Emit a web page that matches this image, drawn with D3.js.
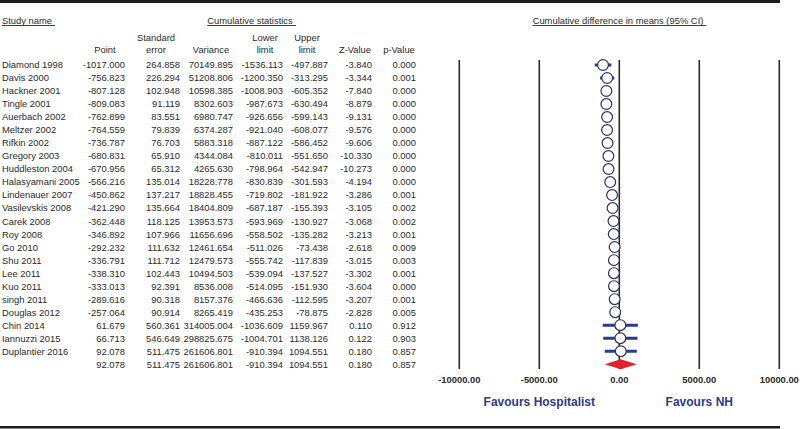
<!DOCTYPE html>
<html>
<head>
<meta charset="utf-8">
<script src="https://cdn.jsdelivr.net/npm/d3@7"></script>
<style>
  body { margin: 0; background: #fff; }
  svg { display: block; font-family: "Liberation Sans", Arial, sans-serif; }
</style>
</head>
<body>
<svg width="800" height="429"></svg>
<script>
// study rows
const studies = ["Diamond 1998", "Davis 2000", "Hackner 2001", "Tingle 2001", "Auerbach 2002", "Meltzer 2002",
  "Rifkin 2002", "Gregory 2003", "Huddleston 2004", "Halasyamani 2005", "Lindenauer 2007", "Vasilevskis 2008",
  "Carek 2008", "Roy 2008", "Go 2010", "Shu 2011", "Lee 2011", "Kuo 2011", "singh 2011", "Douglas 2012",
  "Chin 2014", "Iannuzzi 2015", "Duplantier 2016"]
const point = [-1017.000, -756.823, -807.128, -809.083, -762.899, -764.559, -736.787, -680.831, -670.956, -566.216,
  -450.862, -421.290, -362.448, -346.892, -292.232, -336.791, -338.310, -333.013, -289.616, -257.064, 61.679, 66.713, 92.078]
const stdErr = [264.858, 226.294, 102.948, 91.119, 83.551, 79.839, 76.703, 65.910, 65.312, 135.014,
  137.217, 135.664, 118.125, 107.966, 111.632, 111.712, 102.443, 92.391, 90.318, 90.914, 560.361, 546.649, 511.475]
const variance = [70149.895, 51208.806, 10598.385, 8302.603, 6980.747, 6374.287, 5883.318, 4344.084, 4265.630, 18228.778,
  18828.455, 18404.809, 13953.573, 11656.696, 12461.654, 12479.573, 10494.503, 8536.008, 8157.376, 8265.419, 314005.004, 298825.675, 261606.801]
const lower = [-1536.113, -1200.350, -1008.903, -987.673, -926.656, -921.040, -887.122, -810.011, -798.964, -830.839,
  -719.802, -687.187, -593.969, -558.502, -511.026, -555.742, -539.094, -514.095, -466.636, -435.253, -1036.609, -1004.701, -910.394]
const upper = [-497.887, -313.295, -605.352, -630.494, -599.143, -608.077, -586.452, -551.650, -542.947, -301.593,
  -181.922, -155.393, -130.927, -135.282, -73.438, -117.839, -137.527, -151.930, -112.595, -78.875, 1159.967, 1138.126, 1094.551]
const zValue = [-3.840, -3.344, -7.840, -8.879, -9.131, -9.576, -9.606, -10.330, -10.273, -4.194,
  -3.286, -3.105, -3.068, -3.213, -2.618, -3.015, -3.302, -3.604, -3.207, -2.828, 0.110, 0.122, 0.180]
const pValue = [0.000, 0.001, 0.000, 0.000, 0.000, 0.000, 0.000, 0.000, 0.000, 0.000,
  0.001, 0.002, 0.002, 0.001, 0.009, 0.003, 0.001, 0.000, 0.001, 0.005, 0.912, 0.903, 0.857]
// overall (cumulative) row
const summary = { point: 92.078, se: 511.475, variance: 261606.801, lower: -910.394, upper: 1094.551, z: 0.180, p: 0.857 }
const axisTicks = [-10000, -5000, 0, 5000, 10000]

const svg = d3.select("svg")
const navy = "#2b3a8f", ink = "#2a2a2a"
const fs = 9.4
// hyphen instead of the unicode minus d3 uses
const f3 = v => d3.format(".3f")(v).replace("\u2212", "-")
const f2 = v => d3.format(".2f")(v).replace("\u2212", "-")

// frame bars
svg.append("rect").attr("x", 0).attr("y", 0).attr("width", 780).attr("height", 3).attr("fill", "#1e1e1e")
svg.append("rect").attr("x", 0).attr("y", 426).attr("width", 780).attr("height", 2.5).attr("fill", "#1e1e1e")

const rows = studies.map((s, i) => ({
  name: s, point: point[i], se: stdErr[i], variance: variance[i], lower: lower[i], upper: upper[i], z: zValue[i], p: pValue[i]
}))
const allRows = rows.concat([Object.assign({ name: "", summary: true }, summary)])

const y = d3.scalePoint().domain(d3.range(allRows.length)).range([65, 364.2])
const x = d3.scaleLinear().domain([-10000, 10000]).range([459.3, 779.3])

// headers
const underlined = (txt, xx, anchor) => {
  const t = svg.append("text").attr("x", xx).attr("y", 23.5).attr("text-anchor", anchor)
    .attr("font-size", fs).attr("fill", ink).text(txt)
  const bb = t.node().getBBox()
  svg.append("line").attr("x1", bb.x).attr("x2", bb.x + bb.width + 3)
    .attr("y1", 25.5).attr("y2", 25.5).attr("stroke", ink).attr("stroke-width", 0.9)
}
underlined("Study name", 2, "start")
underlined("Cumulative statistics", 250, "middle")
underlined("Cumulative difference in means (95% CI)", 618, "middle")

const cols = [
  { key: "point", head: ["", "Point"], hx: 105, rx: 125 },
  { key: "se", head: ["Standard", "error"], hx: 156, rx: 180 },
  { key: "variance", head: ["", "Variance"], hx: 211, rx: 233 },
  { key: "lower", head: ["Lower", "limit"], hx: 265, rx: 283 },
  { key: "upper", head: ["Upper", "limit"], hx: 307, rx: 328 },
  { key: "z", head: ["", "Z-Value"], hx: 355, rx: 372 },
  { key: "p", head: ["", "p-Value"], hx: 399, rx: 416 }
]
cols.forEach(c => {
  c.head.forEach((h, j) => {
    if (!h) return
    svg.append("text").attr("x", c.hx).attr("y", 40.5 + j * 12).attr("text-anchor", "middle")
      .attr("font-size", fs).attr("fill", ink).text(h)
  })
})

// table body
const tbl = svg.append("g").attr("font-size", fs).attr("fill", ink)
tbl.selectAll("text.name").data(allRows).join("text")
  .attr("class", "name").attr("x", 2).attr("y", (d, i) => y(i) + 3.4).text(d => d.name)
cols.forEach(c => {
  tbl.selectAll("text." + c.key).data(allRows).join("text")
    .attr("class", c.key).attr("x", c.rx).attr("y", (d, i) => y(i) + 3.4)
    .attr("text-anchor", "end").text(d => f3(d[c.key]))
})

// plot grid lines
svg.append("g").selectAll("line").data(axisTicks).join("line")
  .attr("x1", d => x(d)).attr("x2", d => x(d)).attr("y1", 60).attr("y2", 369)
  .attr("stroke", ink).attr("stroke-width", 1.6)
svg.append("g").selectAll("text").data(axisTicks).join("text")
  .attr("x", d => x(d)).attr("y", 382.5).attr("text-anchor", "middle")
  .attr("font-size", fs).attr("font-weight", "bold").attr("fill", ink)
  .text(d => f2(d))

// confidence intervals and points
const marks = svg.append("g")
marks.selectAll("line.ci").data(rows).join("line")
  .attr("class", "ci").attr("x1", d => x(d.lower)).attr("x2", d => x(d.upper))
  .attr("y1", (d, i) => y(i)).attr("y2", (d, i) => y(i))
  .attr("stroke", navy).attr("stroke-width", 3)
marks.selectAll("circle").data(rows).join("circle")
  .attr("cx", d => x(d.point)).attr("cy", (d, i) => y(i)).attr("r", 5.4)
  .attr("fill", "#fff").attr("stroke", "#2a3268").attr("stroke-width", 1.2)

// summary diamond
const ys = y(allRows.length - 1)
svg.append("path")
  .attr("d", `M${x(summary.lower)},${ys} L${x(summary.point)},${ys - 5} L${x(summary.upper)},${ys} L${x(summary.point)},${ys + 5} Z`)
  .attr("fill", "#e3232a")

// favours labels
svg.append("text").attr("x", x(-5000)).attr("y", 406).attr("text-anchor", "middle")
  .attr("font-size", 12).attr("font-weight", "bold").attr("fill", navy).text("Favours Hospitalist")
svg.append("text").attr("x", x(5000)).attr("y", 406).attr("text-anchor", "middle")
  .attr("font-size", 12).attr("font-weight", "bold").attr("fill", navy).text("Favours NH")
</script>
</body>
</html>
